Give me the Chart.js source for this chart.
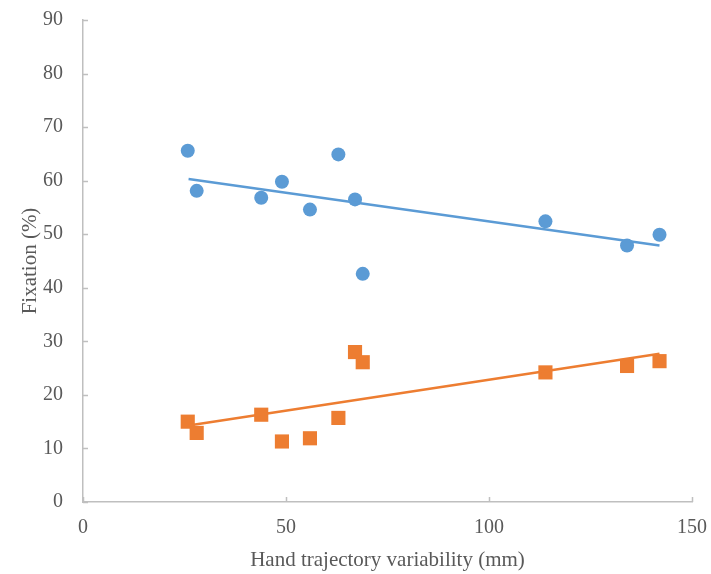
<!DOCTYPE html>
<html>
<head>
<meta charset="utf-8">
<script src="https://cdn.jsdelivr.net/npm/chart.js@4/dist/chart.umd.min.js"></script>
<style>
  html, body { margin: 0; padding: 0; background: #fff; }
  #wrap { width: 711px; height: 574px; }
</style>
</head>
<body>
<div id="wrap"><canvas id="myChart" width="711" height="574"></canvas></div>
<script>
// values
const handVariability = [25.8, 28, 43.9, 49, 55.9, 62.9, 67, 68.9, 113.9, 134, 142];
const fixationBlue = [65.6, 58.1, 56.8, 59.8, 54.6, 64.9, 56.5, 42.6, 52.4, 47.9, 49.9];
const fixationOrange = [15.0, 12.9, 16.3, 11.3, 11.9, 15.7, 28.0, 26.1, 24.2, 25.4, 26.3];

// trendline end points (as drawn in the picture)
const trendX = [26, 142];
const trendBlue = [60.3, 47.9];
const trendOrange = [14.3, 27.7];

const xTitle = 'Hand trajectory variability (mm)';
const yTitle = 'Fixation (%)';

const BLUE = '#5B9BD5';
const ORANGE = '#ED7D31';
const AXIS_GREY = '#BFBFBF';
const TEXT_GREY = '#595959';
const FONT = "'Liberation Serif', 'Times New Roman', serif";

function toPoints(xs, ys) {
    return xs.map((x, i) => ({ x: x, y: ys[i] }));
}

// Excel-style tick marks that point into the plot area
const innerTicks = {
    id: 'innerTicks',
    afterDraw(chart) {
        const ctx = chart.ctx;
        const xs = chart.scales.x;
        const ys = chart.scales.y;
        const len = 5;
        ctx.save();
        ctx.strokeStyle = AXIS_GREY;
        ctx.lineWidth = 1.5;
        ctx.beginPath();
        xs.ticks.forEach(t => {
            const px = Math.round(xs.getPixelForValue(t.value)) + 0.5;
            ctx.moveTo(px, ys.bottom);
            ctx.lineTo(px, ys.bottom - len);
        });
        ys.ticks.forEach(t => {
            const py = Math.round(ys.getPixelForValue(t.value)) + 0.5;
            ctx.moveTo(xs.left, py);
            ctx.lineTo(xs.left + len, py);
        });
        ctx.stroke();
        ctx.restore();
    }
};

document.addEventListener('DOMContentLoaded', () => {
    const ctx = document.getElementById('myChart').getContext('2d');
    new Chart(ctx, {
        type: 'scatter',
        data: {
            datasets: [
                {
                    label: 'Blue trend',
                    type: 'line',
                    data: toPoints(trendX, trendBlue),
                    borderColor: BLUE,
                    borderWidth: 2.5,
                    pointRadius: 0,
                    fill: false,
                    order: 0
                },
                {
                    label: 'Orange trend',
                    type: 'line',
                    data: toPoints(trendX, trendOrange),
                    borderColor: ORANGE,
                    borderWidth: 2.5,
                    pointRadius: 0,
                    fill: false,
                    order: 0
                },
                {
                    label: 'Blue',
                    data: toPoints(handVariability, fixationBlue),
                    pointStyle: 'circle',
                    pointRadius: 7,
                    pointBorderWidth: 0,
                    backgroundColor: BLUE,
                    borderColor: BLUE,
                    order: 1
                },
                {
                    label: 'Orange',
                    data: toPoints(handVariability, fixationOrange),
                    pointStyle: 'rect',
                    pointRadius: 10,
                    pointBorderWidth: 0,
                    backgroundColor: ORANGE,
                    borderColor: ORANGE,
                    order: 1
                }
            ]
        },
        options: {
            responsive: false,
            animation: false,
            layout: { padding: { top: 20, right: 19, left: 0, bottom: 0 } },
            plugins: {
                legend: { display: false },
                tooltip: { enabled: false }
            },
            scales: {
                x: {
                    type: 'linear',
                    min: 0,
                    max: 150,
                    afterFit: s => {
                        s.height = 72;
                        s.paddingLeft = 0;
                        s.paddingRight = 0;
                    },
                    grid: { display: false, drawTicks: false },
                    border: { display: true, color: AXIS_GREY, width: 1.5 },
                    ticks: {
                        stepSize: 50,
                        padding: 14,
                        color: TEXT_GREY,
                        font: { family: FONT, size: 20 }
                    },
                    title: {
                        display: true,
                        text: xTitle,
                        color: TEXT_GREY,
                        font: { family: FONT, size: 21 },
                        padding: { top: 1, bottom: 1 }
                    }
                },
                y: {
                    type: 'linear',
                    min: 0,
                    max: 90,
                    afterFit: s => {
                        s.width = 83;
                        s.paddingTop = 0;
                        s.paddingBottom = 0;
                    },
                    grid: { display: false, drawTicks: false },
                    border: { display: true, color: AXIS_GREY, width: 1.5 },
                    ticks: {
                        stepSize: 10,
                        padding: 20,
                        color: TEXT_GREY,
                        font: { family: FONT, size: 20 }
                    },
                    title: {
                        display: true,
                        text: yTitle,
                        color: TEXT_GREY,
                        font: { family: FONT, size: 21 },
                        padding: { top: 18, bottom: 18 }
                    }
                }
            }
        },
        plugins: [innerTicks]
    });
});
</script>
</body>
</html>
